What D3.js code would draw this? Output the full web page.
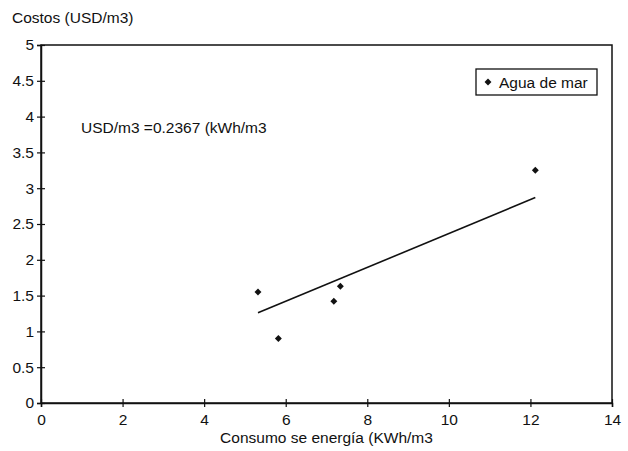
<!DOCTYPE html>
<meta charset="utf-8">
<style>
  body { margin: 0; background: #fff; }
  text { font-family: "Liberation Sans", Arial, Helvetica, sans-serif; fill: #111; }
</style>
<script src="https://cdn.jsdelivr.net/npm/d3@7/dist/d3.min.js"></script>
<body>
<script>

// values
var energia = [5.32, 5.82, 7.18, 7.34, 12.12];
var costos  = [1.55, 0.90, 1.42, 1.63, 3.25];
var pendiente = 0.2367;            // USD/m3 = 0.2367 * kWh/m3
var xTicks = [0, 2, 4, 6, 8, 10, 12, 14];
var yTicks = [0, 0.5, 1, 1.5, 2, 2.5, 3, 3.5, 4, 4.5, 5];
var serie = "Agua de mar";

function drawChart() {
  var width = 628,
      height = 451,
      pl = 41, pr = 612, pt = 45, pb = 403,
      fs = "15.5px";

  var svg = d3.select("body").append("svg")
      .attr("width", width)
      .attr("height", height);

  var x = d3.scaleLinear().domain([0, 14]).range([pl, pr]);
  var y = d3.scaleLinear().domain([0, 5]).range([pb, pt]);

  // frame
  svg.append("rect")
      .attr("x", pl).attr("y", pt)
      .attr("width", pr - pl).attr("height", pb - pt)
      .attr("fill", "none").attr("stroke", "#111").attr("stroke-width", 1.5);

  var yAxis = svg.append("g")
      .attr("transform", "translate(" + pl + ",0)")
      .call(d3.axisLeft(y).tickValues(yTicks).tickSize(4).tickPadding(3).tickFormat(d3.format("")));
  yAxis.selectAll(".tick line").attr("x1", 4);

  var xAxis = svg.append("g")
      .attr("transform", "translate(0," + pb + ")")
      .call(d3.axisBottom(x).tickValues(xTicks).tickSize(4).tickPadding(7).tickFormat(d3.format("d")));
  xAxis.selectAll(".tick line").attr("y1", -4);

  [yAxis, xAxis].forEach(function(a) {
    a.select(".domain").attr("stroke", "#111").attr("stroke-width", 1.5);
    a.selectAll(".tick line").attr("stroke", "#111").attr("stroke-width", 1.2);
    a.selectAll(".tick text").style("font-size", fs).attr("fill", "#111");
  });

  // trend line
  var ext = d3.extent(energia);
  svg.append("path")
      .datum(ext)
      .attr("fill", "none").attr("stroke", "#111").attr("stroke-width", 1.6)
      .attr("d", d3.line().x(function(d) { return x(d); }).y(function(d) { return y(pendiente * d); }));

  // points (square turned 45deg, like the scanned markers)
  var diamond = d3.symbol().type(d3.symbolSquare).size(24);
  svg.selectAll(".pt")
      .data(energia)
    .enter().append("path")
      .attr("class", "pt")
      .attr("transform", function(d, i) { return "translate(" + x(d) + "," + y(costos[i]) + ") rotate(45)"; })
      .attr("d", diamond)
      .attr("fill", "#111");

  // legend
  var lg = svg.append("g").attr("transform", "translate(476,69)");
  lg.append("rect").attr("width", 121).attr("height", 26)
      .attr("fill", "#fff").attr("stroke", "#111").attr("stroke-width", 1.3);
  lg.append("path").attr("d", diamond).attr("transform", "translate(12,13) rotate(45)").attr("fill", "#111");
  lg.append("text").attr("x", 23).attr("y", 18.5).style("font-size", fs).text(serie);

  // texts
  svg.append("text").attr("x", 12).attr("y", 23).style("font-size", fs).text("Costos (USD/m3)");
  svg.append("text").attr("x", 81).attr("y", 133).style("font-size", fs).text("USD/m3 =0.2367 (kWh/m3");
  svg.append("text").attr("x", (pl + pr) / 2).attr("y", 443).attr("text-anchor", "middle")
      .style("font-size", fs).text("Consumo se energía (KWh/m3");
}

drawChart();

</script>
</body>
